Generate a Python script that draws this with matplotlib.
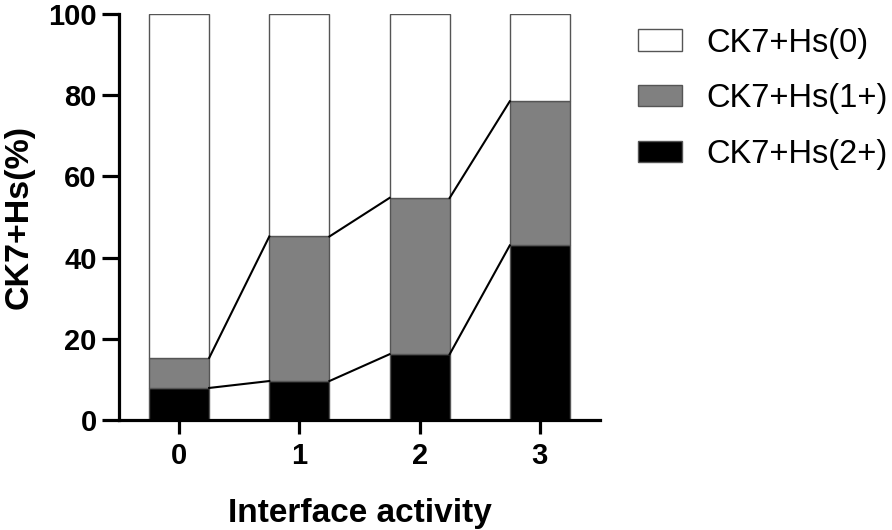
import matplotlib.pyplot as plt
import numpy as np

plt.rcParams['font.family'] = ['Liberation Sans', 'DejaVu Sans']

# stacked percentages per interface activity group
groups = ['0', '1', '2', '3']
hs2 = [7.9, 9.6, 16.2, 43.0]      # CK7+Hs(2+)
hs1 = [7.4, 35.6, 38.5, 35.5]     # CK7+Hs(1+)
hs0 = [100 - a - b for a, b in zip(hs2, hs1)]  # CK7+Hs(0)
labels = ['CK7+Hs(0)', 'CK7+Hs(1+)', 'CK7+Hs(2+)']

fig = plt.figure(figsize=(8.92, 5.30), dpi=100)
ax = fig.add_axes([0.1334, 0.2075, 0.5392, 0.7661])

x = np.arange(len(groups))
w = 0.5
ec = '#555555'
b2 = ax.bar(x, hs2, w, color='black', edgecolor=ec, linewidth=1, label=labels[2])
b1 = ax.bar(x, hs1, w, bottom=hs2, color='#808080', edgecolor=ec, linewidth=1, label=labels[1])
b0 = ax.bar(x, hs0, w, bottom=np.add(hs2, hs1), color='white', edgecolor=ec, linewidth=1, label=labels[0])

# connecting lines between segment tops
top2 = np.array(hs2)
top1 = np.add(hs2, hs1)
for tops in (top2, top1):
    for i in range(len(x) - 1):
        ax.plot([x[i] + w / 2, x[i + 1] - w / 2], [tops[i], tops[i + 1]],
                color='black', linewidth=1.5, zorder=3)

ax.set_xlim(-0.5, 3.5)
ax.set_ylim(0, 100)
ax.set_yticks([0, 20, 40, 60, 80, 100])
ax.set_xticks(x)
ax.set_xticklabels(groups)
for s in ['top', 'right']:
    ax.spines[s].set_visible(False)
for s in ['left', 'bottom']:
    ax.spines[s].set_linewidth(2.3)
ax.tick_params(axis='y', length=12, width=2.3, pad=4, labelsize=21)
ax.tick_params(axis='x', length=10, width=2.3, pad=6, labelsize=21)
for t in ax.get_xticklabels() + ax.get_yticklabels():
    t.set_fontweight('bold')

ax.set_xlabel('Interface activity', fontsize=24, fontweight='bold', labelpad=20)
ax.set_ylabel('CK7+Hs(%)', fontsize=24.5, fontweight='bold', labelpad=10)

fig.legend(handles=[b0, b1, b2], labels=labels, loc='upper left',
           bbox_to_anchor=(0.715, 0.948), frameon=False, fontsize=23.5,
           handlelength=1.35, handleheight=0.62, handletextpad=0.75,
           labelspacing=0.76, borderpad=0, borderaxespad=0)

fig.savefig('out.png', dpi=100)
